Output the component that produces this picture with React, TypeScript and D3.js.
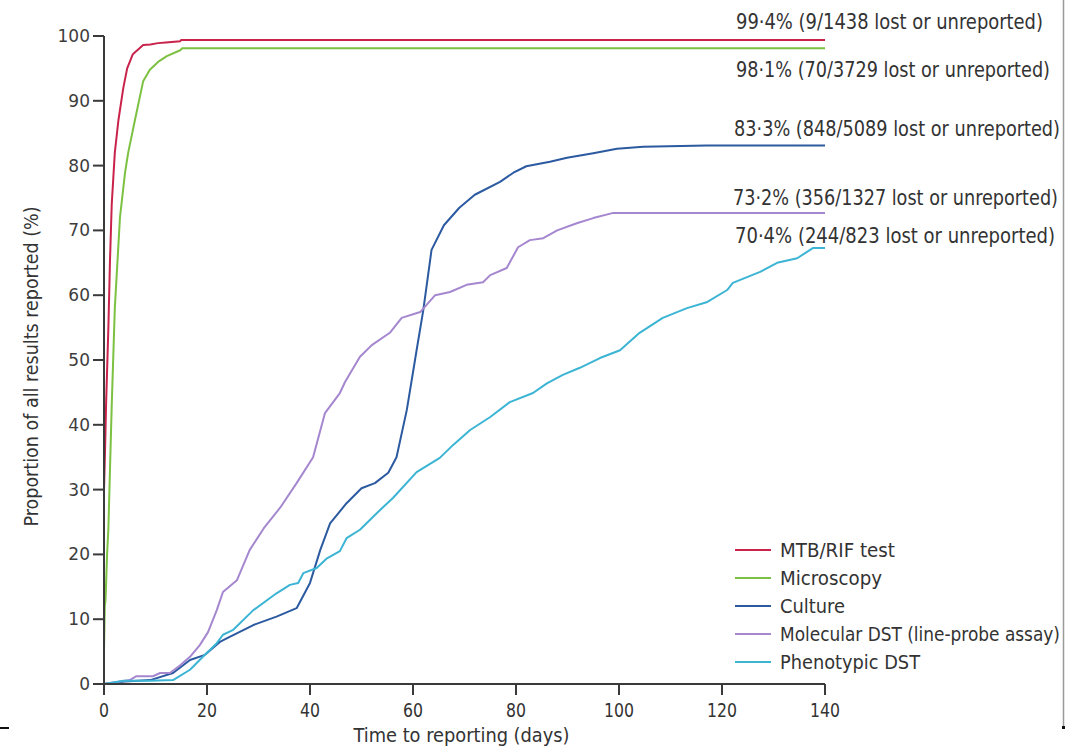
import React from 'react';
import * as d3 from 'd3';

// series names, as in the legend
const seriesNames = [
  'MTB/RIF test',
  'Microscopy',
  'Culture',
  'Molecular DST (line-probe assay)',
  'Phenotypic DST',
];

// days / cumulative % reported
const mtbDays = [0, 0.2, 0.4, 0.85, 1.15, 1.5, 2.1, 2.8, 3.75, 4.5, 5.6, 7.6, 9, 10.5, 12, 14.8, 15, 140];
const mtbPct = [30, 36, 43, 55, 65, 74, 82, 87, 92, 95, 97.2, 98.6, 98.7, 98.9, 99, 99.2, 99.4, 99.4];

const microDays = [0, 0.15, 0.3, 0.6, 0.85, 1.5, 2.1, 3.1, 4.1, 4.7, 6, 7.6, 8.9, 10.5, 12.2, 14.8, 15.2, 140];
const microPct = [5, 12, 13, 20, 24, 43, 58, 72, 79, 82, 87, 93, 94.8, 96, 96.9, 97.8, 98.1, 98.1];

const cultureDays = [0, 4, 9, 13.4, 16.7, 19.6, 22.5, 24.5, 29, 33.5, 37.4, 40, 42, 43.9, 47.1, 50, 52.6, 55.2, 56.8, 58.8, 60.7, 62, 63.6, 66, 69, 72, 76.9, 79.5, 82, 86.6, 89.9, 95, 99.6, 104.7, 117, 140];
const culturePct = [0, 0.4, 0.6, 1.7, 3.7, 4.5, 6.5, 7.3, 9.1, 10.4, 11.7, 15.6, 20.7, 24.8, 27.9, 30.2, 31, 32.6, 35, 42.3, 51.5, 57.7, 67, 70.8, 73.5, 75.5, 77.5, 78.9, 79.9, 80.6, 81.2, 81.9, 82.6, 82.9, 83.1, 83.1];

const molDays = [0, 5, 6.3, 9.5, 10.9, 12.8, 14.8, 16.7, 18.6, 20.2, 21.9, 23.1, 25.8, 28.3, 31, 34.2, 37.4, 40.6, 42.9, 45.8, 46.8, 49.7, 52, 55.5, 57.8, 61.4, 64.3, 67.2, 70.4, 73.6, 75, 78.2, 80.4, 82.7, 85.3, 88, 91.8, 95, 98.9, 140];
const molPct = [0, 0.6, 1.2, 1.2, 1.7, 1.7, 2.9, 4.2, 6, 8, 11.4, 14.2, 16, 20.7, 24, 27.2, 31, 35, 41.8, 44.9, 46.6, 50.5, 52.3, 54.2, 56.5, 57.4, 60, 60.5, 61.6, 62, 63.1, 64.2, 67.4, 68.5, 68.8, 70, 71.1, 71.9, 72.7, 72.7];

const phenoDays = [0, 3.8, 9, 13.4, 16.7, 19.2, 21.9, 23.1, 25, 29, 33.5, 36.1, 37.7, 38.7, 41.3, 43.3, 45.8, 47.1, 49.7, 53, 56.1, 60.7, 65.2, 67.8, 71.1, 75, 78.8, 83.3, 86, 89.1, 92.4, 96.3, 100.2, 104, 108.5, 113.2, 117, 121, 122.1, 127.4, 130.7, 134.6, 137.7, 140];
const phenoPct = [0, 0.5, 0.5, 0.6, 2.2, 4.2, 6.3, 7.6, 8.3, 11.4, 14, 15.3, 15.6, 17.1, 17.9, 19.4, 20.5, 22.5, 23.8, 26.4, 28.7, 32.7, 34.9, 36.9, 39.2, 41.2, 43.5, 44.9, 46.4, 47.7, 48.8, 50.3, 51.5, 54.2, 56.5, 58, 58.9, 60.8, 61.9, 63.6, 65, 65.7, 67.3, 67.3];

const endLabels = [
  '99·4% (9/1438 lost or unreported)',
  '98·1% (70/3729 lost or unreported)',
  '83·3% (848/5089 lost or unreported)',
  '73·2% (356/1327 lost or unreported)',
  '70·4% (244/823 lost or unreported)',
];

const xTicks = [0, 20, 40, 60, 80, 100, 120, 140];
const yTicks = [0, 10, 20, 30, 40, 50, 60, 70, 80, 90, 100];

const colors = ['#c9234b', '#7cc142', '#2c5aa0', '#a587cf', '#3cb4d4'];

// no narrow sans installed, so condensed text gets squeezed to the reference widths
const narrow = '"DejaVu Sans Condensed", "Liberation Sans", sans-serif';

export default function App() {
  const W = 1065, H = 749;
  const x = d3.scaleLinear().domain([0, 140]).range([104, 825]);
  const y = d3.scaleLinear().domain([0, 100]).range([684, 36]);

  const series = [
    [mtbDays, mtbPct],
    [microDays, microPct],
    [cultureDays, culturePct],
    [molDays, molPct],
    [phenoDays, phenoPct],
  ].map(([ds, ps]) => ds.map((d, i) => [d, ps[i]] as [number, number]));

  const line = d3.line<[number, number]>().x(d => x(d[0])).y(d => y(d[1]));

  // end labels: [x, baseline y, width]
  const labelPos = [[736, 29, 307], [736, 77, 314], [734, 136, 326], [733, 205, 325], [735, 243, 320]];
  const legendW = [115, 102, 65, 280, 140];

  const axisColor = '#3a3a3a';

  return (
    <svg width={W} height={H} style={{ position: 'absolute', left: 0, top: 0, background: '#fff' }}>
      {/* curves */}
      {series.map((s, i) => (
        <path key={i} d={line(s) || ''} fill="none" stroke={colors[i]} strokeWidth={2} strokeLinejoin="round" />
      ))}

      {/* y axis */}
      <line x1={x(0)} x2={x(0)} y1={y(100)} y2={y(0)} stroke={axisColor} strokeWidth={2} />
      {yTicks.map(t => (
        <g key={t}>
          <line x1={x(0) - 11} x2={x(0)} y1={y(t)} y2={y(t)} stroke={axisColor} strokeWidth={2} />
          <text x={x(0) - 14} y={y(t) + 6} textAnchor="end" fontSize={17} fill="#3d3d3d" fontFamily="DejaVu Sans, sans-serif">{t}</text>
        </g>
      ))}
      <text transform={`translate(38,${y(49)}) rotate(-90)`} textAnchor="middle" fontSize={19} fill="#333"
        fontFamily={narrow} textLength={320} lengthAdjust="spacingAndGlyphs">
        Proportion of all results reported (%)
      </text>

      {/* x axis */}
      <line x1={x(0)} x2={x(140)} y1={y(0)} y2={y(0)} stroke={axisColor} strokeWidth={2} />
      {xTicks.map(t => (
        <g key={t}>
          <line x1={x(t)} x2={x(t)} y1={y(0)} y2={y(0) + 11} stroke={axisColor} strokeWidth={2} />
          <text x={x(t)} y={y(0) + 33} textAnchor="middle" fontSize={20} fill="#333" fontFamily={narrow}
            textLength={String(t).length * 10} lengthAdjust="spacingAndGlyphs">{t}</text>
        </g>
      ))}
      <text x={(x(0) + x(140)) / 2 - 3} y={742} textAnchor="middle" fontSize={20} fill="#333" fontFamily={narrow}
        textLength={216} lengthAdjust="spacingAndGlyphs">
        Time to reporting (days)
      </text>

      {/* end-of-curve annotations */}
      {endLabels.map((t, i) => (
        <text key={t} x={labelPos[i][0]} y={labelPos[i][1]} fontSize={21} fill="#333" fontFamily={narrow}
          textLength={labelPos[i][2]} lengthAdjust="spacingAndGlyphs">{t}</text>
      ))}

      {/* legend */}
      {seriesNames.map((n, i) => (
        <g key={n} transform={`translate(735,${550 + i * 28})`}>
          <line x1={0} x2={36} y1={0} y2={0} stroke={colors[i]} strokeWidth={2} />
          <text x={45} y={7} fontSize={20} fill="#333" fontFamily={narrow}
            textLength={legendW[i]} lengthAdjust="spacingAndGlyphs">{n}</text>
        </g>
      ))}

      {/* frame remnants at the image edges */}
      <line x1={1063.5} x2={1063.5} y1={0} y2={727} stroke="#9a9a9a" strokeWidth={1.5} />
      <rect x={1062} y={726} width={3} height={3} fill="#111" />
      <rect x={0} y={727} width={9} height={2} fill="#111" />
    </svg>
  );
}
